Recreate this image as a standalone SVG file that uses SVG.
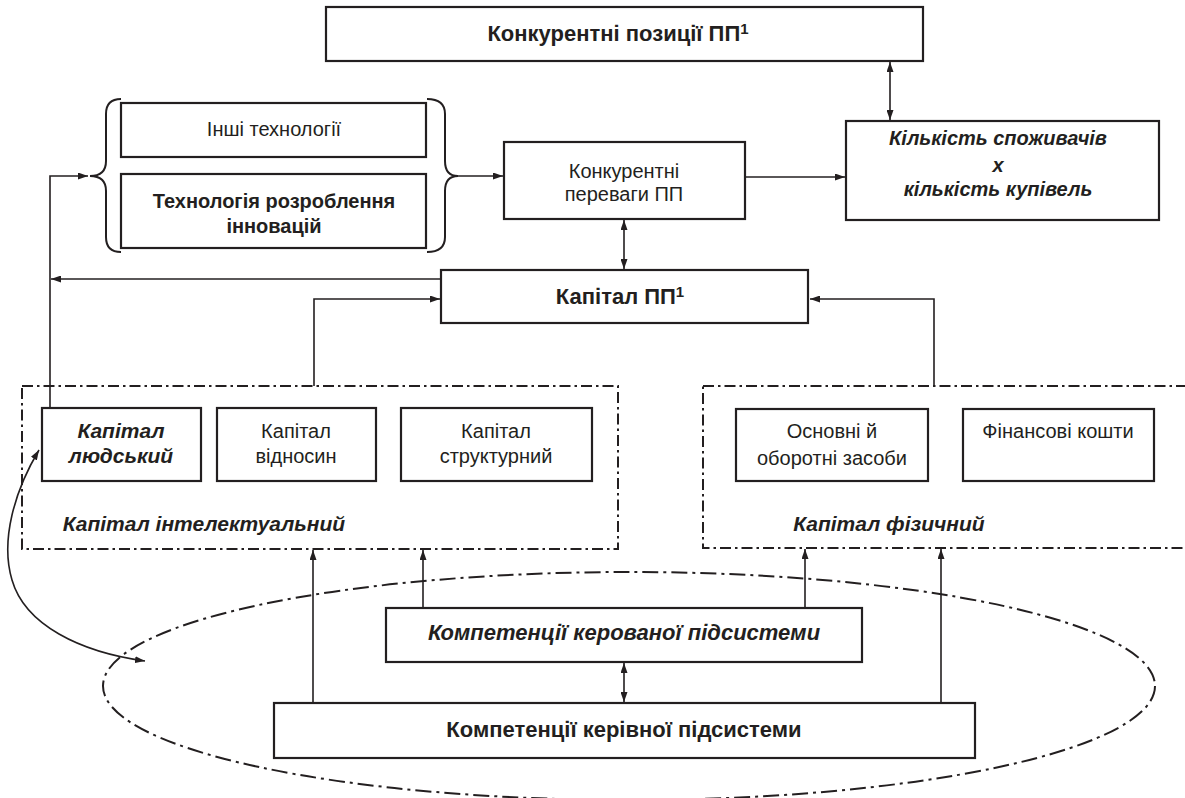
<svg xmlns="http://www.w3.org/2000/svg" width="1185" height="798" viewBox="0 0 1185 798">
<style>
  .box { fill: #fff; stroke: #231f20; stroke-width: 2.2; }
  .grp { fill: none; stroke: #231f20; stroke-width: 2; stroke-dasharray: 11 4 2.5 4; }
  .oval { fill: none; stroke: #231f20; stroke-width: 2; stroke-dasharray: 16 5 3 5; }
  .con { fill: none; stroke: #231f20; stroke-width: 1.6; }
  .brace { fill: none; stroke: #231f20; stroke-width: 2; }
  text { font-family: "Liberation Sans", Arial, sans-serif; fill: #231f20; text-anchor: middle; }
  .r { font-size: 20px; }
  .b { font-size: 22px; font-weight: bold; }
  .b20 { font-size: 20px; font-weight: bold; }
  .bi { font-size: 20px; font-weight: bold; font-style: italic; }
  .bi22 { font-size: 22px; font-weight: bold; font-style: italic; }
</style>
<defs>
  <marker id="ah" markerWidth="10" markerHeight="7" refX="10" refY="3.5" orient="auto-start-reverse" markerUnits="userSpaceOnUse">
    <path d="M0,0 L10,3.5 L0,7 z" fill="#231f20"/>
  </marker>
</defs>

<!-- background oval and group frames -->
<ellipse id="competence-oval" class="oval" cx="629" cy="686" rx="526" ry="114"/>

<g id="intellectual-capital">
  <rect class="grp" x="22" y="386" width="596" height="163"/>
  <text class="bi" x="204" y="531" style="font-size:21px">Капітал інтелектуальний</text>
</g>
<g id="physical-capital">
  <rect class="grp" x="703" y="386" width="492" height="162"/>
  <text class="bi" x="889" y="531" style="font-size:21px">Капітал фізичний</text>
</g>

<g id="connectors">
  <path class="con" d="M890,62 L890,120" marker-start="url(#ah)" marker-end="url(#ah)"/>
  <path class="con" d="M745,177 L845,177" marker-end="url(#ah)"/>
  <path class="con" d="M458,176 L503,176" marker-end="url(#ah)"/>
  <path class="con" d="M50,408 L50,176 L88,176" marker-end="url(#ah)"/>
  <path class="con" d="M441,279 L51,279" marker-end="url(#ah)"/>
  <path class="con" d="M314,386 L314,299 L440,299" marker-end="url(#ah)"/>
  <path class="con" d="M934,386 L934,299 L810,299" marker-end="url(#ah)"/>
  <path class="con" d="M624,220 L624,269" marker-start="url(#ah)" marker-end="url(#ah)"/>
  <path class="con" d="M624,663 L624,702" marker-start="url(#ah)" marker-end="url(#ah)"/>
  <path class="con" d="M313,703 L313,550" marker-end="url(#ah)"/>
  <path class="con" d="M423,608 L423,550" marker-end="url(#ah)"/>
  <path class="con" d="M805,608 L805,549" marker-end="url(#ah)"/>
  <path class="con" d="M941,703 L941,549" marker-end="url(#ah)"/>
  <path class="con" d="M39,450 C15,490 0,540 12,580 C25,625 80,652 145,661" marker-start="url(#ah)" marker-end="url(#ah)"/>
</g>

<g id="competitive-positions">
  <rect class="box" x="326" y="7" width="597" height="54"/>
  <text class="b" x="618" y="41">Конкурентні позиції ПП<tspan font-size="15" dy="-7">1</tspan></text>
</g>

<g id="technologies">
  <path class="brace" d="M121,99 Q106,99 106,114 L106,161 Q106,176 90,176 Q106,176 106,191 L106,237 Q106,252 121,252"/>
  <path class="brace" d="M427,99 Q445,99 445,114 L445,161 Q445,176 458,176 Q445,176 445,191 L445,237 Q445,252 427,252"/>
</g>
<g id="other-tech">
  <rect class="box" x="121" y="103" width="305" height="54"/>
  <text class="r" x="274" y="136">Інші технології</text>
</g>
<g id="innovation-tech">
  <rect class="box" x="121" y="174" width="305" height="74"/>
  <text class="b20" x="274" y="208">Технологія розроблення</text>
  <text class="b20" x="274" y="233">інновацій</text>
</g>

<g id="competitive-advantages">
  <rect class="box" x="504" y="142" width="241" height="77"/>
  <text class="r" x="624" y="178">Конкурентні</text>
  <text class="r" x="624" y="201">переваги ПП</text>
</g>

<g id="consumers">
  <rect class="box" x="846" y="121" width="313" height="99"/>
  <text class="bi" x="998" y="145">Кількість споживачів</text>
  <text class="bi" x="998" y="172">x</text>
  <text class="bi" x="998" y="196">кількість купівель</text>
</g>

<g id="capital-pp">
  <rect class="box" x="441" y="270" width="367" height="53"/>
  <text class="b" x="620" y="304">Капітал  ПП<tspan font-size="15" dy="-7">1</tspan></text>
</g>

<g id="human-capital">
  <rect class="box" x="42" y="408" width="159" height="73"/>
  <text class="bi" x="121" y="438" style="font-size:21px">Капітал</text>
  <text class="bi" x="121" y="463" style="font-size:21px">людський</text>
</g>
<g id="relations-capital">
  <rect class="box" x="217" y="408" width="159" height="73"/>
  <text class="r" x="296" y="438">Капітал</text>
  <text class="r" x="296" y="463">відносин</text>
</g>
<g id="structural-capital">
  <rect class="box" x="401" y="408" width="191" height="73"/>
  <text class="r" x="496" y="438">Капітал</text>
  <text class="r" x="496" y="463">структурний</text>
</g>

<g id="fixed-assets">
  <rect class="box" x="736" y="409" width="192" height="72"/>
  <text class="r" x="832" y="438">Основні й</text>
  <text class="r" x="832" y="465">оборотні засоби</text>
</g>
<g id="finance">
  <rect class="box" x="963" y="409" width="191" height="72"/>
  <text class="r" x="1058" y="438">Фінансові кошти</text>
</g>

<g id="managed-competence">
  <rect class="box" x="386" y="608" width="476" height="54"/>
  <text class="bi22" x="624" y="640">Компетенції керованої підсистеми</text>
</g>
<g id="managing-competence">
  <rect class="box" x="274" y="703" width="701" height="55"/>
  <text class="b" x="624" y="737">Компетенції керівної підсистеми</text>
</g>
</svg>
